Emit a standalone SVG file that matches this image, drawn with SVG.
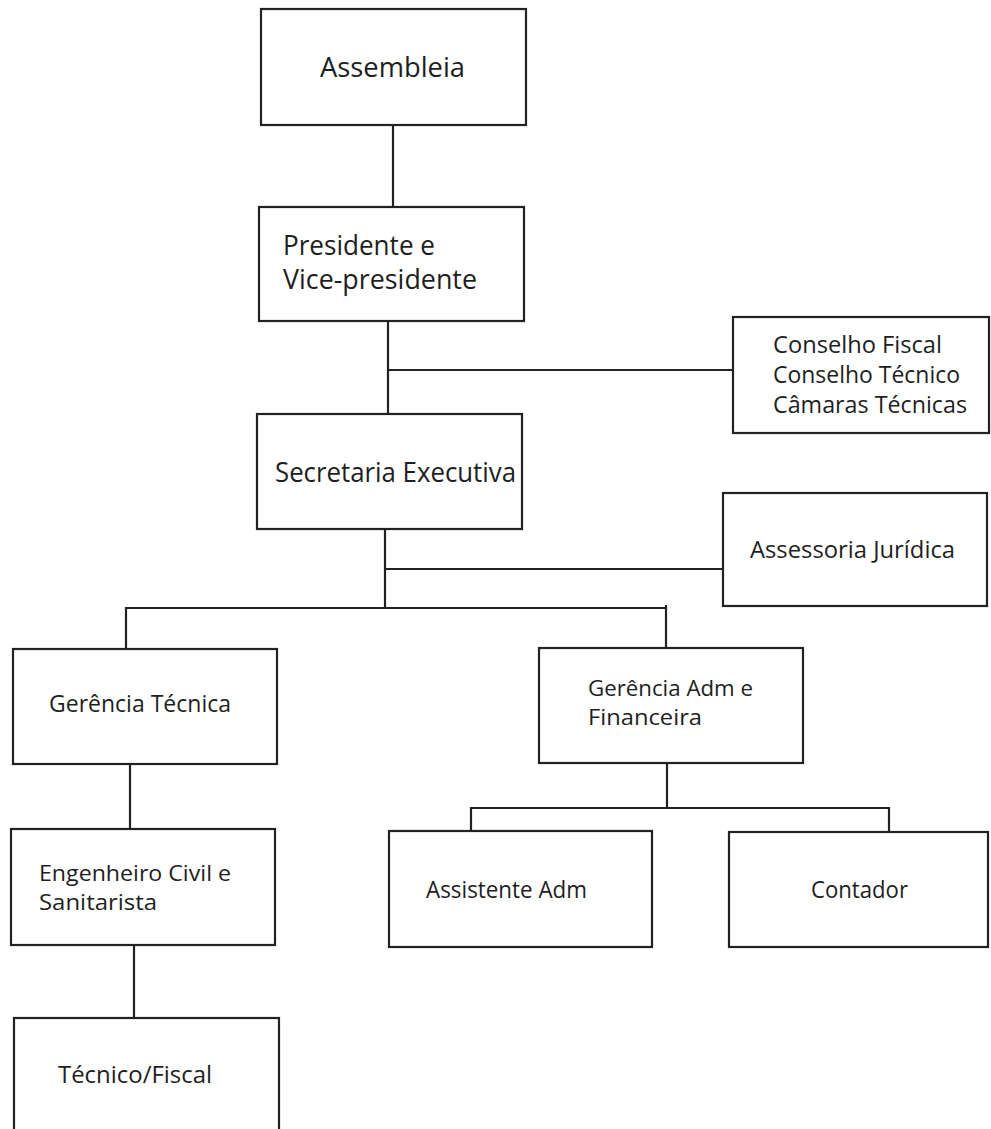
<svg xmlns="http://www.w3.org/2000/svg" width="991" height="1129" viewBox="0 0 991 1129">
<style>
.box{fill:#fff;stroke:#222;stroke-width:2.2}
.ln{fill:none;stroke:#222;stroke-width:2.2}
text{font-family:"Open Sans","Noto Sans","Liberation Sans",sans-serif;fill:#1e1e1e}
.t{font-size:23.5px}
.s{font-size:22px}
.b{font-size:26.5px}
</style>
<rect width="991" height="1129" fill="#fff"/>
<g id="connectors">
<line class="ln" x1="393" y1="125" x2="393" y2="207"/>
<line class="ln" x1="388" y1="321" x2="388" y2="414"/>
<line class="ln" x1="388" y1="370" x2="733" y2="370"/>
<line class="ln" x1="385" y1="529" x2="385" y2="609"/>
<line class="ln" x1="385" y1="569" x2="723" y2="569"/>
<polyline class="ln" points="126,649 126,608 666,608"/>
<line class="ln" x1="666" y1="605" x2="666" y2="648"/>
<line class="ln" x1="130" y1="764" x2="130" y2="829"/>
<line class="ln" x1="134" y1="945" x2="134" y2="1018"/>
<line class="ln" x1="667" y1="763" x2="667" y2="808"/>
<polyline class="ln" points="471,831 471,808 889,808 889,832"/>
</g>
<g id="assembleia">
<rect class="box" x="261" y="9" width="265" height="116"/>
<text x="320" y="77" font-size="27" textLength="145" lengthAdjust="spacingAndGlyphs">Assembleia</text>
</g>
<g id="presidente">
<rect class="box" x="259" y="207" width="265" height="114"/>
<text class="b" x="283" y="255" textLength="152" lengthAdjust="spacingAndGlyphs">Presidente e</text>
<text class="b" x="283" y="289" textLength="194" lengthAdjust="spacingAndGlyphs">Vice-presidente</text>
</g>
<g id="conselhos">
<rect class="box" x="733" y="317" width="256" height="116"/>
<text class="t" x="773" y="353" textLength="169" lengthAdjust="spacingAndGlyphs">Conselho Fiscal</text>
<text class="t" x="773" y="383" textLength="187" lengthAdjust="spacingAndGlyphs">Conselho Técnico</text>
<text class="t" x="773" y="413" textLength="194" lengthAdjust="spacingAndGlyphs">Câmaras Técnicas</text>
</g>
<g id="secretaria">
<rect class="box" x="257" y="414" width="265" height="115"/>
<text class="b" x="275" y="482" textLength="241" lengthAdjust="spacingAndGlyphs">Secretaria Executiva</text>
</g>
<g id="assessoria">
<rect class="box" x="723" y="493" width="264" height="113"/>
<text class="t" x="750" y="558" textLength="205" lengthAdjust="spacingAndGlyphs">Assessoria Jurídica</text>
</g>
<g id="gerencia-tecnica">
<rect class="box" x="13" y="649" width="264" height="115"/>
<text class="t" x="49" y="712" textLength="182" lengthAdjust="spacingAndGlyphs">Gerência Técnica</text>
</g>
<g id="gerencia-adm">
<rect class="box" x="539" y="648" width="264" height="115"/>
<text class="s" x="588" y="696" textLength="165" lengthAdjust="spacingAndGlyphs">Gerência Adm e</text>
<text class="s" x="588" y="725" textLength="114" lengthAdjust="spacingAndGlyphs">Financeira</text>
</g>
<g id="engenheiro">
<rect class="box" x="11" y="829" width="264" height="116"/>
<text class="s" x="39" y="881" textLength="192" lengthAdjust="spacingAndGlyphs">Engenheiro Civil e</text>
<text class="s" x="39" y="910" textLength="118" lengthAdjust="spacingAndGlyphs">Sanitarista</text>
</g>
<g id="assistente">
<rect class="box" x="389" y="831" width="263" height="116"/>
<text class="t" x="426" y="898" textLength="161" lengthAdjust="spacingAndGlyphs">Assistente Adm</text>
</g>
<g id="contador">
<rect class="box" x="729" y="832" width="259" height="115"/>
<text class="t" x="811" y="898" textLength="97" lengthAdjust="spacingAndGlyphs">Contador</text>
</g>
<g id="tecnico-fiscal">
<rect class="box" x="14" y="1018" width="265" height="130"/>
<text class="t" x="58" y="1083" textLength="154" lengthAdjust="spacingAndGlyphs">Técnico/Fiscal</text>
</g>
</svg>
